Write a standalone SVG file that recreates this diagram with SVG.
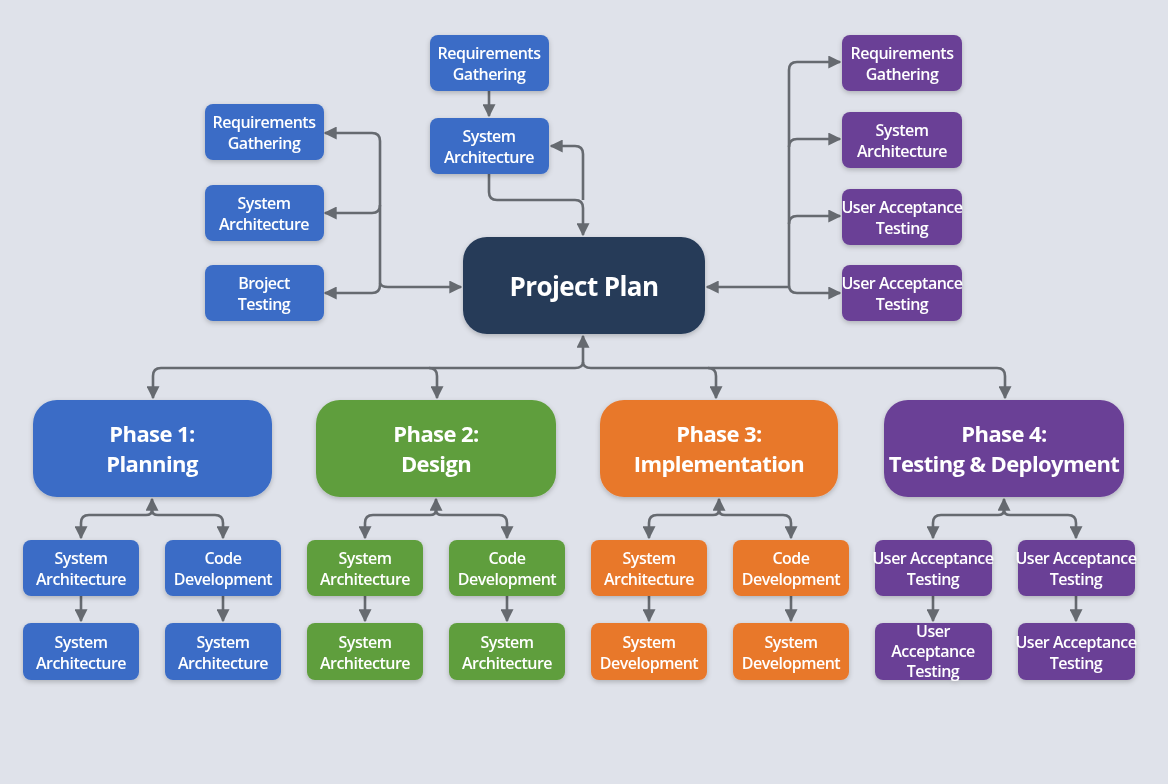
<svg xmlns="http://www.w3.org/2000/svg" width="1168" height="784" viewBox="0 0 1168 784">
<defs>
<style>
.bg{fill:#dfe2ea}
.c{fill:none;stroke:#666a70;stroke-width:2.6;stroke-linejoin:round}
.blue{fill:#3a6cc6}
.green{fill:#5f9e3c}
.orange{fill:#e8782c}
.purple{fill:#6b4196}
.pp{fill:#253a58}
.t{font-family:"Open Sans","Liberation Sans",sans-serif;font-weight:600;fill:#ffffff;text-anchor:middle}
.s{font-size:16px;letter-spacing:-0.5px}
.ph{font-size:22px;font-weight:700;letter-spacing:-0.6px}
.big{font-size:26px;font-weight:700;letter-spacing:-0.6px}
.n{filter:url(#sh)}
</style>
<filter id="sh" x="-20%" y="-20%" width="140%" height="150%">
<feDropShadow dx="0" dy="2" stdDeviation="2.5" flood-color="#000" flood-opacity="0.22"/>
</filter>
<marker id="a" viewBox="0 0 10 10" refX="9" refY="5" markerWidth="5" markerHeight="5" markerUnits="strokeWidth" orient="auto-start-reverse">
<path d="M0,0 L10,5 L0,10 z" fill="#666a70"/>
</marker>
</defs>
<rect class="bg" x="0" y="0" width="1168" height="784"/>

<g id="connectors">
<path class="c" d="M489,91 V116" marker-end="url(#a)"/>
<path class="c" d="M489,174 V192 Q489,200 497,200 H575 Q583,200 583,208 V235" marker-end="url(#a)"/>
<path class="c" d="M583,200 V154 Q583,146 575,146 H551" marker-end="url(#a)"/>
<path class="c" d="M380,141 Q380,133 372,133 H325" marker-end="url(#a)"/>
<path class="c" d="M380,141 V285"/>
<path class="c" d="M380,205 Q380,213 372,213 H325" marker-end="url(#a)"/>
<path class="c" d="M380,285 Q380,293 372,293 H325" marker-end="url(#a)"/>
<path class="c" d="M380,283 Q381,287 388,287 H461" marker-end="url(#a)"/>
<path class="c" d="M789,287 H707" marker-end="url(#a)"/>
<path class="c" d="M789,70 V285"/>
<path class="c" d="M789,70 Q789,62 797,62 H840" marker-end="url(#a)"/>
<path class="c" d="M789,147 Q789,139 797,139 H840" marker-end="url(#a)"/>
<path class="c" d="M789,224 Q789,216 797,216 H840" marker-end="url(#a)"/>
<path class="c" d="M789,285 Q789,293 797,293 H840" marker-end="url(#a)"/>
<path class="c" d="M583,362 V336" marker-end="url(#a)"/>
<path class="c" d="M583,362 Q583,368 575,368 H161 Q153,368 153,376 V398" marker-end="url(#a)"/>
<path class="c" d="M583,362 Q583,368 591,368 H997 Q1005,368 1005,376 V398" marker-end="url(#a)"/>
<path class="c" d="M429,368 Q437,368 437,376 V398" marker-end="url(#a)"/>
<path class="c" d="M708,368 Q716,368 716,376 V398" marker-end="url(#a)"/>
<path class="c" d="M152,512 V499" marker-end="url(#a)"/>
<path class="c" d="M81,538 V523 Q81,515 89,515 H146 Q152,515 152,510 Q152,515 158,515 H215 Q223,515 223,523 V538" marker-start="url(#a)" marker-end="url(#a)"/>
<path class="c" d="M81,596 V621" marker-end="url(#a)"/>
<path class="c" d="M223,596 V621" marker-end="url(#a)"/>
<path class="c" d="M436,512 V499" marker-end="url(#a)"/>
<path class="c" d="M365,538 V523 Q365,515 373,515 H430 Q436,515 436,510 Q436,515 442,515 H499 Q507,515 507,523 V538" marker-start="url(#a)" marker-end="url(#a)"/>
<path class="c" d="M365,596 V621" marker-end="url(#a)"/>
<path class="c" d="M507,596 V621" marker-end="url(#a)"/>
<path class="c" d="M719,512 V499" marker-end="url(#a)"/>
<path class="c" d="M649,538 V523 Q649,515 657,515 H713 Q719,515 719,510 Q719,515 725,515 H783 Q791,515 791,523 V538" marker-start="url(#a)" marker-end="url(#a)"/>
<path class="c" d="M649,596 V621" marker-end="url(#a)"/>
<path class="c" d="M791,596 V621" marker-end="url(#a)"/>
<path class="c" d="M1004,512 V499" marker-end="url(#a)"/>
<path class="c" d="M933,538 V523 Q933,515 941,515 H998 Q1004,515 1004,510 Q1004,515 1010,515 H1068 Q1076,515 1076,523 V538" marker-start="url(#a)" marker-end="url(#a)"/>
<path class="c" d="M933,596 V621" marker-end="url(#a)"/>
<path class="c" d="M1076,596 V621" marker-end="url(#a)"/>
</g>

<g id="project-plan" class="n"><rect class="pp" x="463" y="237" width="242" height="97" rx="24"/><text class="t big" x="584" y="296">Project Plan</text></g>

<g id="top-req" class="n"><rect class="blue" x="430" y="35" width="119" height="56" rx="8"/><text class="t s" x="489" y="59">Requirements</text><text class="t s" x="489" y="80">Gathering</text></g>
<g id="top-sa" class="n"><rect class="blue" x="430" y="118" width="119" height="56" rx="8"/><text class="t s" x="489" y="142">System</text><text class="t s" x="489" y="163">Architecture</text></g>

<g id="left-req" class="n"><rect class="blue" x="205" y="104" width="119" height="56" rx="8"/><text class="t s" x="264" y="128">Requirements</text><text class="t s" x="264" y="149">Gathering</text></g>
<g id="left-sa" class="n"><rect class="blue" x="205" y="185" width="119" height="56" rx="8"/><text class="t s" x="264" y="209">System</text><text class="t s" x="264" y="230">Architecture</text></g>
<g id="left-pt" class="n"><rect class="blue" x="205" y="265" width="119" height="56" rx="8"/><text class="t s" x="264" y="289">Broject</text><text class="t s" x="264" y="310">Testing</text></g>

<g id="right-req" class="n"><rect class="purple" x="842" y="35" width="120" height="56" rx="8"/><text class="t s" x="902" y="59">Requirements</text><text class="t s" x="902" y="80">Gathering</text></g>
<g id="right-sa" class="n"><rect class="purple" x="842" y="112" width="120" height="56" rx="8"/><text class="t s" x="902" y="136">System</text><text class="t s" x="902" y="157">Architecture</text></g>
<g id="right-uat1" class="n"><rect class="purple" x="842" y="189" width="120" height="56" rx="8"/><text class="t s" x="902" y="213">User Acceptance</text><text class="t s" x="902" y="234">Testing</text></g>
<g id="right-uat2" class="n"><rect class="purple" x="842" y="265" width="120" height="56" rx="8"/><text class="t s" x="902" y="289">User Acceptance</text><text class="t s" x="902" y="310">Testing</text></g>

<g id="phase1" class="n"><rect class="blue" x="33" y="400" width="239" height="97" rx="24"/><text class="t ph" x="152" y="442">Phase 1:</text><text class="t ph" x="152" y="472">Planning</text></g>
<g id="phase2" class="n"><rect class="green" x="316" y="400" width="240" height="97" rx="24"/><text class="t ph" x="436" y="442">Phase 2:</text><text class="t ph" x="436" y="472">Design</text></g>
<g id="phase3" class="n"><rect class="orange" x="600" y="400" width="238" height="97" rx="24"/><text class="t ph" x="719" y="442">Phase 3:</text><text class="t ph" x="719" y="472">Implementation</text></g>
<g id="phase4" class="n"><rect class="purple" x="884" y="400" width="240" height="97" rx="24"/><text class="t ph" x="1004" y="442">Phase 4:</text><text class="t ph" x="1004" y="472">Testing &amp; Deployment</text></g>

<g id="p1a" class="n"><rect class="blue" x="23" y="540" width="116" height="56" rx="8"/><text class="t s" x="81" y="564">System</text><text class="t s" x="81" y="585">Architecture</text></g>
<g id="p1b" class="n"><rect class="blue" x="165" y="540" width="116" height="56" rx="8"/><text class="t s" x="223" y="564">Code</text><text class="t s" x="223" y="585">Development</text></g>
<g id="p1c" class="n"><rect class="blue" x="23" y="623" width="116" height="57" rx="8"/><text class="t s" x="81" y="648">System</text><text class="t s" x="81" y="669">Architecture</text></g>
<g id="p1d" class="n"><rect class="blue" x="165" y="623" width="116" height="57" rx="8"/><text class="t s" x="223" y="648">System</text><text class="t s" x="223" y="669">Architecture</text></g>

<g id="p2a" class="n"><rect class="green" x="307" y="540" width="116" height="56" rx="8"/><text class="t s" x="365" y="564">System</text><text class="t s" x="365" y="585">Architecture</text></g>
<g id="p2b" class="n"><rect class="green" x="449" y="540" width="116" height="56" rx="8"/><text class="t s" x="507" y="564">Code</text><text class="t s" x="507" y="585">Development</text></g>
<g id="p2c" class="n"><rect class="green" x="307" y="623" width="116" height="57" rx="8"/><text class="t s" x="365" y="648">System</text><text class="t s" x="365" y="669">Architecture</text></g>
<g id="p2d" class="n"><rect class="green" x="449" y="623" width="116" height="57" rx="8"/><text class="t s" x="507" y="648">System</text><text class="t s" x="507" y="669">Architecture</text></g>

<g id="p3a" class="n"><rect class="orange" x="591" y="540" width="116" height="56" rx="8"/><text class="t s" x="649" y="564">System</text><text class="t s" x="649" y="585">Architecture</text></g>
<g id="p3b" class="n"><rect class="orange" x="733" y="540" width="116" height="56" rx="8"/><text class="t s" x="791" y="564">Code</text><text class="t s" x="791" y="585">Development</text></g>
<g id="p3c" class="n"><rect class="orange" x="591" y="623" width="116" height="57" rx="8"/><text class="t s" x="649" y="648">System</text><text class="t s" x="649" y="669">Development</text></g>
<g id="p3d" class="n"><rect class="orange" x="733" y="623" width="116" height="57" rx="8"/><text class="t s" x="791" y="648">System</text><text class="t s" x="791" y="669">Development</text></g>

<g id="p4a" class="n"><rect class="purple" x="875" y="540" width="117" height="56" rx="8"/><text class="t s" x="933" y="564">User Acceptance</text><text class="t s" x="933" y="585">Testing</text></g>
<g id="p4b" class="n"><rect class="purple" x="1018" y="540" width="117" height="56" rx="8"/><text class="t s" x="1076" y="564">User Acceptance</text><text class="t s" x="1076" y="585">Testing</text></g>
<g id="p4c" class="n"><rect class="purple" x="875" y="623" width="117" height="57" rx="8"/><text class="t s" x="933" y="637">User</text><text class="t s" x="933" y="657">Acceptance</text><text class="t s" x="933" y="677">Testing</text></g>
<g id="p4d" class="n"><rect class="purple" x="1018" y="623" width="117" height="57" rx="8"/><text class="t s" x="1076" y="648">User Acceptance</text><text class="t s" x="1076" y="669">Testing</text></g>
</svg>
